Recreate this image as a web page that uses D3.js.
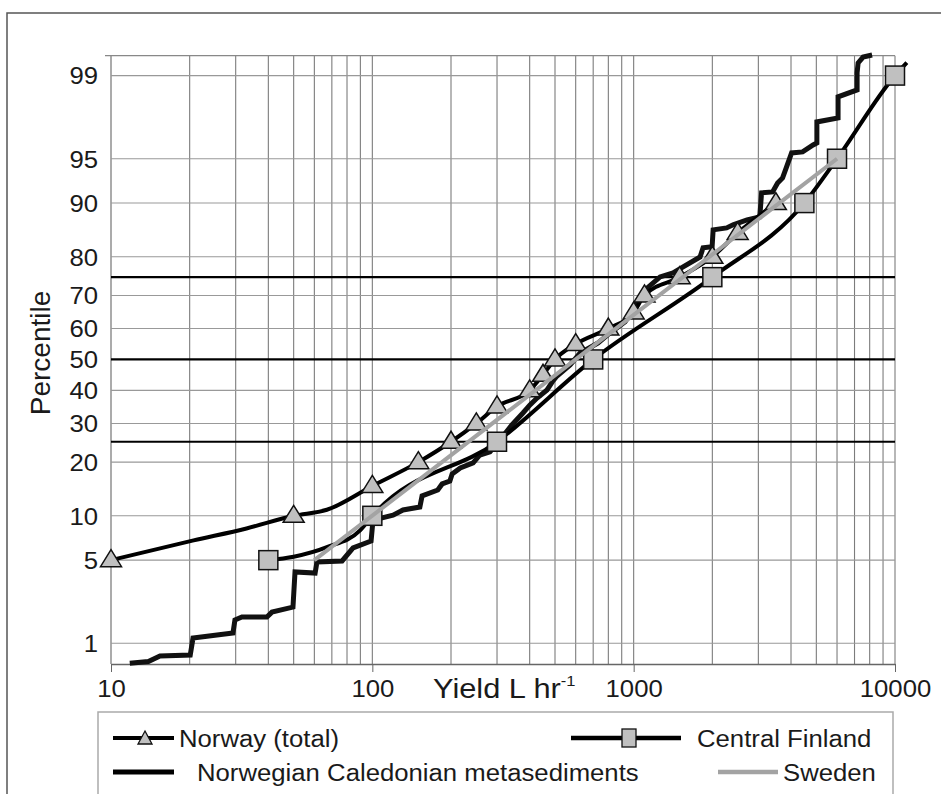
<!DOCTYPE html>
<html>
<head>
<meta charset="utf-8">
<script src="https://cdn.jsdelivr.net/npm/d3@7"></script>
<style>
body { margin: 0; background: #fff; }
svg { display: block; }
text { font-family: "Liberation Sans", Arial, sans-serif; fill: #1a1a1a; }
</style>
</head>
<body>
<svg id="canvas" width="941" height="794"></svg>
<script>
// axis values
let pctTicks = [1, 5, 10, 20, 30, 40, 50, 60, 70, 80, 90, 95, 99]
let pctBold = [25, 50, 75]
let pctRange = [0.628, 99.36]
let yieldTicks = [10, 100, 1000, 10000]
let yieldRange = [10, 10000]

// Norway (total) - line points, then triangle markers
let norwayYield = [10, 20.7, 33, 50, 67, 100, 150, 200, 250, 300, 400, 450, 500, 600, 800, 1000, 1100, 1500, 2000, 2500, 3500]
let norwayPct = [5, 6.9, 8.3, 10, 10.9, 15, 20, 25, 30, 35, 40, 45, 50, 55, 60, 65, 70, 75, 80, 85, 90]
let norwayMarkYield = [10, 50, 100, 150, 200, 250, 300, 400, 450, 500, 600, 800, 1000, 1100, 1500, 2000, 2500, 3500]
let norwayMarkPct = [5, 10, 15, 20, 25, 30, 35, 40, 45, 50, 55, 60, 65, 70, 75, 80, 85, 90]

// Central Finland - line points, then square markers
let finlandYield = [40, 50, 67, 90, 100, 300, 700, 2000, 4500, 6000, 10000, 11100]
let finlandPct = [5, 5.3, 6.2, 8.1, 10, 25, 50, 75, 90, 95, 99, 99.25]
let finlandMarkYield = [40, 100, 300, 700, 2000, 4500, 6000, 10000]
let finlandMarkPct = [5, 10, 25, 50, 75, 90, 95, 99]

// Sweden
let swedenYield = [60, 600, 6000]
let swedenPct = [5, 50, 95]

// Norwegian Caledonian metasediments (stepped)
let calYield = [11.8, 13.9, 15.4, 20.1, 20.6, 29.3, 29.8, 31.7, 39.5, 41.3, 49.7, 50.6, 60.4, 61.4, 76.6, 84.4, 98.9, 100.6,
  109, 120, 131, 152, 155, 178, 185, 198, 202, 217, 243, 258, 282, 308, 342, 377, 401, 427, 466, 491, 509,
  571, 624, 731, 812, 927, 1013, 1106, 1262, 1415, 1546, 1795, 1843, 1996, 2014, 2268, 2401, 2716, 3038, 3086,
  3401, 3554, 3714, 3847, 4021, 4431, 4860, 5024, 5024, 6055, 6055, 7161, 7161, 7225, 7550, 8172]
let calPct = [0.64, 0.666, 0.755, 0.77, 1.12, 1.25, 1.64, 1.74, 1.74, 1.92, 2.12, 4.08, 4.0, 4.85, 4.93, 6.12, 6.84, 9.41,
  9.7, 10.1, 10.86, 11.33, 13.16, 14.23, 15.38, 15.96, 17.39, 18.7, 19.82, 21.68, 22.42, 25.47, 29.56, 33.04, 35.46, 37.6, 40.13, 43.0, 44.6,
  48.2, 52.1, 55.4, 58.6, 62.1, 66.9, 71.6, 75.05, 76.1, 77.6, 79.95, 81.97, 82.2, 85.58, 85.95, 86.5, 87.35, 87.86, 91.39,
  91.51, 92.6, 93.16, 94.27, 95.47, 95.55, 96.06, 96.2, 97.42, 97.61, 98.43, 98.64, 99.06, 99.245, 99.34, 99.37]

// inverse normal cdf (Acklam)
let probit = (p) => {
    let a = [-39.69683028665376, 220.9460984245205, -275.9285104469687, 138.3577518672690, -30.66479806614716, 2.506628277459239]
    let b = [-54.47609879822406, 161.5858368580409, -155.6989798598866, 66.80131188771972, -13.28068155288572]
    let c = [-0.007784894002430293, -0.3223964580411365, -2.400758277161838, -2.549732539343734, 4.374664141464968, 2.938163982698783]
    let d = [0.007784695709041462, 0.3224671290700398, 2.445134137142996, 3.754408661907416]
    let pl = 0.02425
    let q, r
    if (p < pl) {
        q = Math.sqrt(-2 * Math.log(p))
        return (((((c[0] * q + c[1]) * q + c[2]) * q + c[3]) * q + c[4]) * q + c[5]) / ((((d[0] * q + d[1]) * q + d[2]) * q + d[3]) * q + 1)
    }
    if (p > 1 - pl) {
        q = Math.sqrt(-2 * Math.log(1 - p))
        return -(((((c[0] * q + c[1]) * q + c[2]) * q + c[3]) * q + c[4]) * q + c[5]) / ((((d[0] * q + d[1]) * q + d[2]) * q + d[3]) * q + 1)
    }
    q = p - 0.5
    r = q * q
    return (((((a[0] * r + a[1]) * r + a[2]) * r + a[3]) * r + a[4]) * r + a[5]) * q / (((((b[0] * r + b[1]) * r + b[2]) * r + b[3]) * r + b[4]) * r + 1)
}

let canvas = d3.select('#canvas')

let plotLeft = 111, plotRight = 895, plotTop = 55.7, plotBottom = 664
let xScale = d3.scaleLog().domain(yieldRange).range([plotLeft, plotRight])
let zScale = d3.scaleLinear().domain(pctRange.map(p => probit(p / 100))).range([plotBottom, plotTop])
let yScale = (pct) => zScale(probit(pct / 100))

let zip = (xs, ys) => xs.map((v, i) => [v, ys[i]])

// outer frame
canvas.append('rect')
    .attr('x', 7).attr('y', 13)
    .attr('width', 960).attr('height', 820)
    .attr('fill', 'none')
    .attr('stroke', '#555')
    .attr('stroke-width', 1.5)

// vertical grid
canvas.append('g').selectAll('line')
    .data(xScale.ticks())
    .enter()
    .append('line')
    .attr('x1', d => xScale(d)).attr('x2', d => xScale(d))
    .attr('y1', plotTop).attr('y2', plotBottom)
    .attr('stroke', d => d === 10 ? '#666' : '#7c7c7c')
    .attr('stroke-width', 1.1)

// horizontal grid
canvas.append('g').selectAll('line')
    .data(pctTicks)
    .enter()
    .append('line')
    .attr('x1', plotLeft).attr('x2', plotRight)
    .attr('y1', d => yScale(d)).attr('y2', d => yScale(d))
    .attr('stroke', '#999')
    .attr('stroke-width', 1.1)

canvas.append('line')
    .attr('x1', 105).attr('x2', plotRight)
    .attr('y1', plotTop).attr('y2', plotTop)
    .attr('stroke', '#888')
    .attr('stroke-width', 1.2)

canvas.append('g').selectAll('line')
    .data(pctBold)
    .enter()
    .append('line')
    .attr('x1', plotLeft).attr('x2', plotRight)
    .attr('y1', d => yScale(d)).attr('y2', d => yScale(d))
    .attr('stroke', '#000')
    .attr('stroke-width', 2.2)

// x axis
let xAxis = d3.axisBottom(xScale)
    .tickValues(yieldTicks)
    .tickFormat(d3.format('d'))
    .tickSize(8)
    .tickSizeOuter(0)
    .tickPadding(8)

let xg = canvas.append('g')
    .attr('transform', 'translate(0,' + plotBottom + ')')
    .call(xAxis)
xg.select('.domain').attr('stroke', '#666').attr('stroke-width', 1.5)
xg.selectAll('.tick line').attr('stroke', '#666')
xg.selectAll('.tick text')
    .attr('font-size', 24.5)
    .attr('font-family', '"Liberation Sans", Arial, sans-serif')
    .attr('fill', '#1a1a1a')
    .attr('transform', 'scale(1.05,1)')

// y labels
canvas.append('g').selectAll('text')
    .data(pctTicks)
    .enter()
    .append('text')
    .attr('transform', d => 'translate(98,' + yScale(d) + ') scale(1.05,1)')
    .attr('text-anchor', 'end')
    .attr('dy', '0.36em')
    .attr('font-size', 24.5)
    .text(d => d)

// axis titles
let xt = canvas.append('text')
    .attr('transform', 'translate(433,698) scale(1.1,1)')
    .attr('font-size', 28)
xt.append('tspan').text('Yield L hr')
xt.append('tspan').attr('font-size', 15).attr('dy', -12).text('-1')

canvas.append('text')
    .attr('transform', 'translate(50,353) rotate(-90)')
    .attr('text-anchor', 'middle')
    .attr('font-size', 28)
    .text('Percentile')

// series
let line = d3.line()
    .x(d => xScale(d[0]))
    .y(d => yScale(d[1]))

let lineSmooth = d3.line()
    .x(d => xScale(d[0]))
    .y(d => yScale(d[1]))
    .curve(d3.curveMonotoneX)

canvas.append('path')
    .datum(zip(calYield, calPct))
    .attr('d', line)
    .attr('fill', 'none')
    .attr('stroke', '#111')
    .attr('stroke-width', 5)
    .attr('stroke-linejoin', 'miter')

canvas.append('path')
    .datum(zip(norwayYield, norwayPct))
    .attr('d', lineSmooth)
    .attr('fill', 'none')
    .attr('stroke', '#000')
    .attr('stroke-width', 4)

let triPath = 'M0,-9.5L10.5,7.5L-10.5,7.5Z'
canvas.append('g').selectAll('path')
    .data(zip(norwayMarkYield, norwayMarkPct))
    .enter()
    .append('path')
    .attr('d', triPath)
    .attr('transform', d => 'translate(' + xScale(d[0]) + ',' + (yScale(d[1]) - 1) + ')')
    .attr('fill', '#c0c0c0')
    .attr('stroke', '#111')
    .attr('stroke-width', 1.5)

canvas.append('path')
    .datum(zip(finlandYield, finlandPct))
    .attr('d', lineSmooth)
    .attr('fill', 'none')
    .attr('stroke', '#000')
    .attr('stroke-width', 4)

canvas.append('g').selectAll('rect')
    .data(zip(finlandMarkYield, finlandMarkPct))
    .enter()
    .append('rect')
    .attr('x', d => xScale(d[0]) - 9.5)
    .attr('y', d => yScale(d[1]) - 9.5)
    .attr('width', 19).attr('height', 19)
    .attr('fill', '#c0c0c0')
    .attr('stroke', '#111')
    .attr('stroke-width', 1.5)

canvas.append('path')
    .datum(zip(swedenYield, swedenPct))
    .attr('d', line)
    .attr('fill', 'none')
    .attr('stroke', '#a3a3a3')
    .attr('stroke-width', 4)

// legend
let legend = canvas.append('g')
legend.append('rect')
    .attr('x', 98).attr('y', 712)
    .attr('width', 795).attr('height', 120)
    .attr('fill', '#fff')
    .attr('stroke', '#aaa')
    .attr('stroke-width', 1.5)

let legendItems = [
    { name: 'Norway (total)', x1: 113, x2: 174, y: 738, tx: 179, ty: 747, color: '#000', w: 4, mark: 'tri', mx: 145 },
    { name: 'Central Finland', x1: 571, x2: 681, y: 738, tx: 697, ty: 747, color: '#000', w: 4.5, mark: 'sq', mx: 629 },
    { name: 'Norwegian Caledonian metasediments', x1: 113, x2: 174, y: 772, tx: 197, ty: 781, color: '#000', w: 5, mark: null },
    { name: 'Sweden', x1: 718, x2: 778, y: 772, tx: 783, ty: 781, color: '#a3a3a3', w: 4.5, mark: null }
]

legendItems.forEach(item => {
    legend.append('line')
        .attr('x1', item.x1).attr('x2', item.x2)
        .attr('y1', item.y).attr('y2', item.y)
        .attr('stroke', item.color)
        .attr('stroke-width', item.w)
    if (item.mark === 'tri') {
        legend.append('path')
            .attr('d', 'M0,-7L7,6L-7,6Z')
            .attr('transform', 'translate(' + item.mx + ',' + item.y + ')')
            .attr('fill', '#c0c0c0')
            .attr('stroke', '#111')
            .attr('stroke-width', 1.3)
    } else if (item.mark === 'sq') {
        legend.append('rect')
            .attr('x', item.mx - 7).attr('y', item.y - 9)
            .attr('width', 14).attr('height', 18)
            .attr('fill', '#c0c0c0')
            .attr('stroke', '#111')
            .attr('stroke-width', 1.3)
    }
    legend.append('text')
        .attr('transform', 'translate(' + item.tx + ',' + item.ty + ') scale(1.05,1)')
        .attr('font-size', 24.5)
        .text(item.name)
})
</script>
</body>
</html>
